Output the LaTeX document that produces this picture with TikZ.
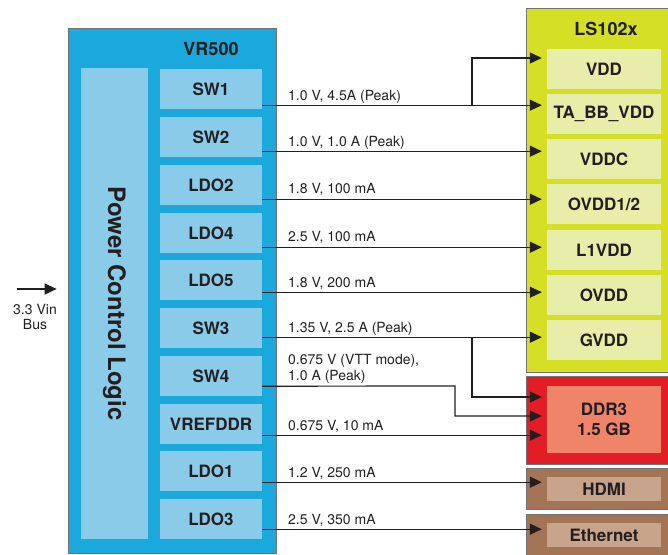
\documentclass[tikz,border=0pt]{standalone}
\usepackage{fontspec}
\setmainfont{TeX Gyre Heros}
\usetikzlibrary{arrows.meta}

\definecolor{vrblue}{HTML}{1BA8DD}
\definecolor{vrlight}{HTML}{8BCBEA}
\definecolor{lsgreen}{HTML}{D4DF25}
\definecolor{lslight}{HTML}{E8EDA9}
\definecolor{ddrred}{HTML}{E31D25}
\definecolor{ddrlight}{HTML}{EF8469}
\definecolor{ifbrown}{HTML}{A47456}
\definecolor{iflight}{HTML}{C8A48C}
\definecolor{ink}{HTML}{231F20}

\tikzset{
    outer/.style={draw=black!55, line width=0.7pt},
    vrunit/.style={fill=vrlight, minimum width=102pt, minimum height=40pt, inner sep=0pt, text=ink, font=\fontsize{17}{18}\selectfont\bfseries},
    lsunit/.style={fill=lslight, minimum width=114pt, minimum height=40pt, inner sep=0pt, text=ink, font=\fontsize{17}{20}\selectfont\bfseries},
    boxtitle/.style={text=ink, font=\fontsize{18}{20}\selectfont\bfseries},
    feed/.style={draw=ink, line width=1.2pt, -{Triangle[length=12pt,width=11pt]}, shorten >=5pt},
    volt/.style={anchor=base west, inner sep=0pt, text=ink, font=\fontsize{14}{16}\selectfont}
}

\begin{document}
\begin{tikzpicture}[x=1pt, y=-1pt]
    \useasboundingbox (0,0) rectangle (668,554);
    % VR500
    \node[outer, fill=vrblue, minimum width=208pt, minimum height=525pt, inner sep=0pt] (vr) at (172,290.5) {};
    \node[boxtitle] (vrname) at (211,49) {VR500};
    \node[fill=vrlight, rotate=-90, minimum width=471pt, minimum height=67pt, inner sep=0pt, text=ink, font=\fontsize{24}{26}\selectfont\bfseries] (pcl) at (114.5,303.5) {Power Control Logic};
    \node[vrunit] (sw1) at (211,89) {SW1};
    \node[vrunit] (sw2) at (211,137) {SW2};
    \node[vrunit] (ldo2) at (211,185) {LDO2};
    \node[vrunit] (ldo4) at (211,233) {LDO4};
    \node[vrunit] (ldo5) at (211,280) {LDO5};
    \node[vrunit] (sw3) at (211,328) {SW3};
    \node[vrunit] (sw4) at (211,376) {SW4};
    \node[vrunit] (vref) at (211,424) {VREFDDR};
    \node[vrunit] (ldo1) at (211,471) {LDO1};
    \node[vrunit] (ldo3) at (211,519) {LDO3};

    % LS102x and memory / interfaces
    \draw[outer, fill=lsgreen] (526,8) rectangle (672,372);
    \node[boxtitle] (lsname) at (606,29) {LS102x};
    \node[lsunit] (vdd) at (604,69) {VDD};
    \node[lsunit] (tabb) at (604,114) {TA\_BB\_VDD};
    \node[lsunit] (vddc) at (604,159) {VDDC};
    \node[lsunit] (ovddh) at (604,204) {OVDD1/2};
    \node[lsunit] (lvdd) at (604,250) {L1VDD};
    \node[lsunit] (ovdd) at (604,295) {OVDD};
    \node[lsunit] (gvdd) at (604,340) {GVDD};
    \draw[outer, fill=ddrred] (526,376) rectangle (672,464);
    \node[lsunit, fill=ddrlight, minimum height=67pt, align=center] (ddr) at (604,419.5) {DDR3\\1.5 GB};
    \draw[outer, fill=ifbrown] (526,468) rectangle (672,509);
    \node[lsunit, fill=iflight, minimum height=24pt] (hdmi) at (604,489) {HDMI};
    \draw[outer, fill=ifbrown] (526,514) rectangle (672,560);
    \node[lsunit, fill=iflight, minimum height=24pt] (eth) at (604,535) {Ethernet};

    % supply rails
    \coordinate (o1) at ([yshift=4pt]sw1.south east);
    \coordinate (o2) at ([yshift=6pt]sw2.south east);
    \coordinate (o3) at ([yshift=6pt]ldo2.south east);
    \coordinate (o4) at ([yshift=6pt]ldo4.south east);
    \coordinate (o5) at ([yshift=8pt]ldo5.south east);
    \coordinate (o6) at ([yshift=11pt]sw3.south east);
    \coordinate (o7) at ([yshift=10pt]sw4.south east);
    \coordinate (o8) at ([yshift=9pt]vref.south east);
    \coordinate (o9) at ([yshift=9pt]ldo1.south east);
    \coordinate (o10) at ([yshift=10pt]ldo3.south east);
    \coordinate (b1) at (472,105);
    \coordinate (b6) at (472,337);
    \coordinate (k7) at (455,386);
    \draw[feed] (o1) -- (o1 -| tabb.west);
    \draw[feed] (b1) |- ([yshift=11pt]vdd.west);
    \draw[feed] (o2) -- (o2 -| vddc.west);
    \draw[feed] (o3) -- (o3 -| ovddh.west);
    \draw[feed] (o4) -- (o4 -| lvdd.west);
    \draw[feed] (o5) -- (o5 -| ovdd.west);
    \draw[feed] (o6) -- (o6 -| gvdd.west);
    \draw[feed] (b6) |- ([yshift=22.5pt]ddr.west);
    \draw[feed] (o7) -- (k7) |- ([yshift=3.5pt]ddr.west);
    \draw[feed] (o8) -- (o8 -| ddr.west);
    \draw[feed] (o9) -- (o9 -| hdmi.west);
    \draw[feed] (o10) -- (o10 -| eth.west);

    \node[volt] (v1) at (288,100) {1.0 V, 4.5A (Peak)};
    \node[volt] (v2) at (288,146) {1.0 V, 1.0 A (Peak)};
    \node[volt] (v3) at (288,193) {1.8 V, 100 mA};
    \node[volt] (v4) at (288,241) {2.5 V, 100 mA};
    \node[volt] (v5) at (288,287) {1.8 V, 200 mA};
    \node[volt] (v6) at (288,332) {1.35 V, 2.5 A (Peak)};
    \node[volt, anchor=south west, align=left] (v7) at (288,384) {0.675 V (VTT mode),\\1.0 A (Peak)};
    \node[volt] (v8) at (288,430) {0.675 V, 10 mA};
    \node[volt] (v9) at (288,477) {1.2 V, 250 mA};
    \node[volt] (v10) at (288,524) {2.5 V, 350 mA};

    % input
    \coordinate (vin) at (17,289);
    \draw[feed, shorten >=11pt] (vin) -- (vin -| vr.west);
    \node[text=ink, align=center, font=\fontsize{14}{15}\selectfont] (vinname) at (35,317) {3.3 Vin\\Bus};
\end{tikzpicture}
\end{document}
